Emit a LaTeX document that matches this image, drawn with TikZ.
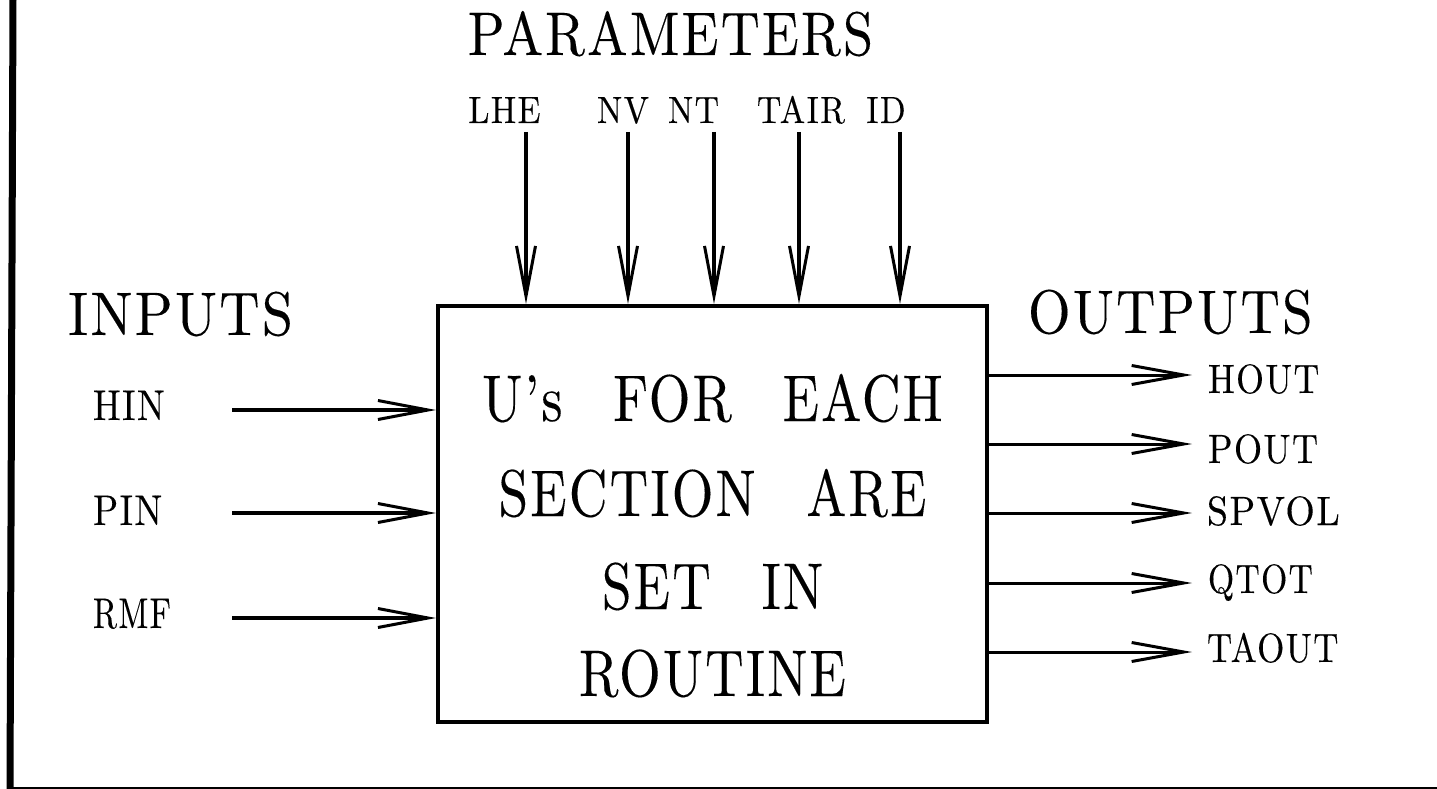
\documentclass[tikz,border=0pt]{standalone}
\usepackage{fontspec}
\setmainfont{lmroman10-regular.otf}[LetterSpace=4,FakeBold=0.2]
\usetikzlibrary{arrows.meta}
\newcommand{\wgap}{\hspace{0.95em}}
\begin{document}
\begin{tikzpicture}[x=1pt,y=-1pt,
  txt/.style={inner sep=0pt, outer sep=0pt},
  heading/.style={txt, font=\fontsize{61.5}{70}\selectfont},
  parlabel/.style={txt, anchor=base, xscale=0.89, font=\fontsize{38}{44}\selectfont},
  inlabel/.style={txt, anchor=base west, font=\fontsize{43}{50}\selectfont},
  outlabel/.style={txt, anchor=base west, font=\fontsize{41}{48}\selectfont},
  boxtext/.style={txt, anchor=base, xscale=0.81, font=\fontsize{66}{75}\selectfont},
  blockbox/.style={draw, line width=4pt, minimum width=549pt, minimum height=416pt, inner sep=0pt},
  flow/.style={line width=3.6pt, -{Straight Barb[length=50pt,width=19pt,line width=3pt]}},
  outflow/.style={line width=3pt, -{Straight Barb[length=52pt,width=19pt,line width=3pt]}}
]
\useasboundingbox (0,0) rectangle (1437,789);

% frame: heavy left rule and thin bottom rule
\draw[line width=7pt] (13,0) -- (10,789);
\draw[line width=2pt] (10,788) -- (1437,788);

% central block
\node[blockbox] (box) at (712.5,514) {};
\node[boxtext] (t1) at (712.5,421) {U's\wgap FOR\wgap EACH};
\node[boxtext] (t2) at (712.5,516) {SECTION\wgap ARE};
\node[boxtext] (t3) at (712.5,609) {SET\wgap IN};
\node[boxtext] (t4) at (712.5,696) {ROUTINE};

% headings
\node[heading, anchor=base, xscale=0.88] (par) at (670.5,55) {PARAMETERS};
\node[heading, anchor=base west, xscale=0.91] (inp) at (68,335) {INPUTS};
\node[heading, anchor=base west, xscale=0.89] (outp) at (1028,333) {OUTPUTS};

% parameters entering from the top
\node[parlabel] (lhe) at (504.5,123) {LHE};
\node[parlabel] (nv) at (623,123) {NV};
\node[parlabel] (nt) at (693.5,123) {NT};
\node[parlabel] (tair) at (801,123) {TAIR};
\node[parlabel] (id) at (886,123) {ID};
\coordinate (p1) at (526,132);
\coordinate (p2) at (628,132);
\coordinate (p3) at (714,132);
\coordinate (p4) at (799,132);
\coordinate (p5) at (900,132);
\foreach \p in {p1,p2,p3,p4,p5}
  \draw[flow] (\p) -- (box.north -| \p);

% inputs entering from the left
\node[inlabel, xscale=0.86] (hin) at (93,420) {HIN};
\node[inlabel, xscale=0.86] (pin) at (93,525) {PIN};
\node[inlabel, xscale=0.76] (rmf) at (93,628) {RMF};
\coordinate (i1) at (232,410);
\coordinate (i2) at (232,513);
\coordinate (i3) at (232,618);
\foreach \i in {i1,i2,i3}
  \draw[flow] (\i) -- (box.west |- \i);

% outputs leaving to the right
\node[outlabel, xscale=0.87] (hout) at (1208,393) {HOUT};
\node[outlabel, xscale=0.88] (pout) at (1208,463) {POUT};
\node[outlabel, xscale=0.92] (spvol) at (1207,525) {SPVOL};
\node[outlabel, xscale=0.82] (qtot) at (1208,593) {QTOT};
\node[outlabel, xscale=0.85] (taout) at (1207,662) {TAOUT};
\coordinate (o1) at (1192,375);
\coordinate (o2) at (1192,444);
\coordinate (o3) at (1192,513);
\coordinate (o4) at (1192,583);
\coordinate (o5) at (1192,652);
\foreach \o in {o1,o2,o3,o4,o5}
  \draw[outflow] (box.east |- \o) -- (\o);
\end{tikzpicture}
\end{document}
